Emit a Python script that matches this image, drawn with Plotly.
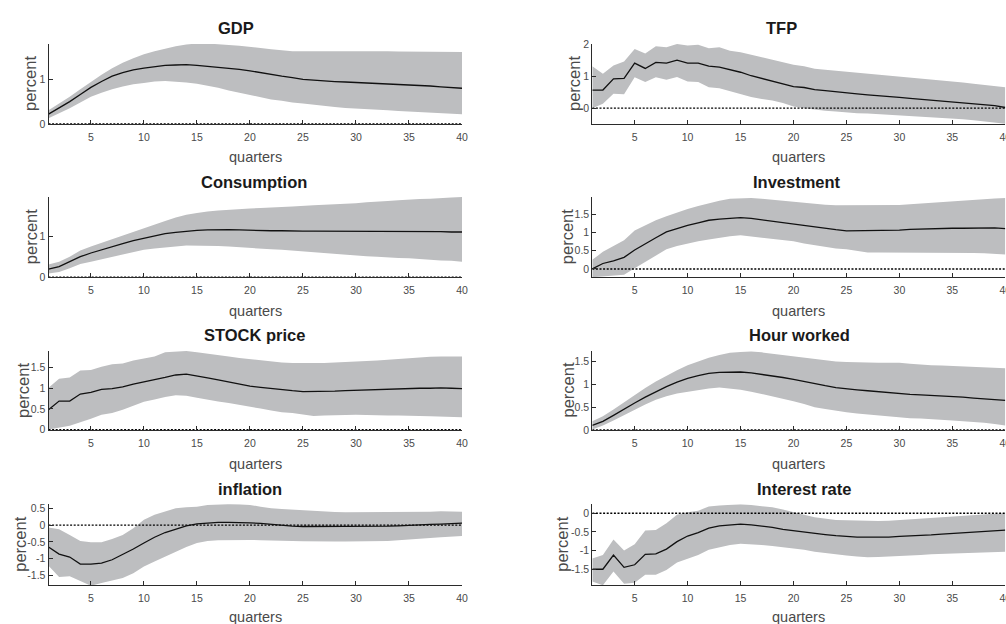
import plotly.graph_objects as go

quarters = list(range(1, 41))
x_ticks = [5, 10, 15, 20, 25, 30, 35, 40]

titles = ["GDP", "TFP", "Consumption", "Investment",
          "STOCK price", "Hour worked", "inflation", "Interest rate"]

gdp_mid = [0.22,0.36,0.50,0.66,0.82,0.95,1.07,1.15,1.21,1.25,1.28,1.31,1.32,1.33,1.31,1.29,1.26,1.24,1.22,1.19,
           1.15,1.10,1.07,1.04,1.00,0.98,0.96,0.95,0.94,0.93,0.92,0.91,0.90,0.88,0.87,0.86,0.85,0.83,0.82,0.80]
gdp_hi = [0.31,0.46,0.61,0.78,0.95,1.10,1.25,1.37,1.47,1.56,1.63,1.69,1.74,1.78,1.80,1.80,1.79,1.77,1.75,1.73,
          1.70,1.67,1.65,1.63,1.63,1.63,1.64,1.64,1.64,1.64,1.63,1.63,1.63,1.62,1.62,1.62,1.62,1.61,1.61,1.61]
gdp_lo = [0.13,0.24,0.35,0.48,0.61,0.70,0.78,0.84,0.89,0.92,0.95,0.96,0.95,0.93,0.90,0.86,0.81,0.75,0.70,0.65,
          0.60,0.55,0.52,0.48,0.46,0.43,0.40,0.38,0.36,0.35,0.34,0.32,0.31,0.29,0.28,0.27,0.26,0.24,0.23,0.22]

tfp_mid = [0.57,0.57,0.92,0.94,1.42,1.25,1.44,1.42,1.51,1.42,1.42,1.32,1.29,1.21,1.13,1.02,0.94,0.84,0.77,0.68,
           0.65,0.58,0.55,0.51,0.48,0.45,0.42,0.40,0.37,0.34,0.31,0.28,0.25,0.22,0.20,0.17,0.15,0.12,0.08,0.02]
tfp_hi = [1.32,1.08,1.34,1.47,1.86,1.72,1.95,1.92,2.02,1.97,2.00,1.89,1.92,1.81,1.76,1.68,1.61,1.53,1.45,1.37,
          1.32,1.24,1.21,1.18,1.16,1.12,1.08,1.05,1.02,1.00,0.97,0.95,0.92,0.88,0.84,0.81,0.77,0.74,0.70,0.66]
tfp_lo = [0.00,0.14,0.45,0.44,0.97,0.82,0.97,0.89,0.98,0.84,0.82,0.66,0.63,0.53,0.45,0.35,0.29,0.24,0.16,0.05,
          0.00,-0.05,-0.08,-0.11,-0.14,-0.16,-0.17,-0.19,-0.20,-0.21,-0.23,-0.25,-0.27,-0.30,-0.32,-0.35,-0.38,-0.42,-0.46,-0.49]

cons_mid = [0.20,0.26,0.38,0.50,0.59,0.67,0.75,0.82,0.89,0.95,1.00,1.06,1.09,1.12,1.14,1.15,1.16,1.16,1.15,1.14,
            1.14,1.13,1.13,1.12,1.12,1.12,1.12,1.12,1.12,1.12,1.12,1.12,1.12,1.12,1.12,1.11,1.11,1.11,1.10,1.10]
cons_hi = [0.31,0.38,0.50,0.65,0.75,0.84,0.93,1.02,1.10,1.19,1.28,1.37,1.45,1.52,1.56,1.60,1.62,1.64,1.65,1.67,
           1.68,1.70,1.71,1.72,1.74,1.75,1.76,1.77,1.79,1.80,1.82,1.83,1.85,1.87,1.89,1.90,1.91,1.93,1.94,1.95]
cons_lo = [0.09,0.13,0.22,0.32,0.38,0.44,0.50,0.56,0.62,0.67,0.70,0.73,0.75,0.77,0.77,0.76,0.76,0.75,0.73,0.71,
           0.70,0.68,0.67,0.65,0.63,0.61,0.59,0.57,0.55,0.52,0.51,0.50,0.48,0.47,0.46,0.44,0.43,0.41,0.40,0.38]

inv_mid = [0.00,0.15,0.22,0.32,0.52,0.70,0.86,1.02,1.12,1.20,1.27,1.34,1.37,1.40,1.41,1.39,1.35,1.31,1.27,1.22,
           1.18,1.14,1.11,1.08,1.05,1.05,1.05,1.05,1.06,1.07,1.09,1.10,1.11,1.11,1.12,1.12,1.13,1.14,1.13,1.11]
inv_hi = [0.25,0.47,0.63,0.79,1.06,1.20,1.34,1.45,1.56,1.65,1.73,1.81,1.88,1.93,1.95,1.95,1.93,1.90,1.87,1.84,
          1.82,1.79,1.77,1.75,1.75,1.75,1.75,1.75,1.76,1.76,1.78,1.80,1.82,1.85,1.88,1.90,1.92,1.93,1.94,1.95]
inv_lo = [-0.23,-0.21,-0.19,-0.16,0.02,0.20,0.38,0.54,0.63,0.70,0.76,0.81,0.86,0.90,0.93,0.90,0.87,0.84,0.80,0.76,
          0.70,0.65,0.60,0.56,0.54,0.50,0.45,0.45,0.45,0.45,0.45,0.46,0.46,0.46,0.46,0.45,0.44,0.43,0.41,0.40]

stock_mid = [0.48,0.69,0.69,0.86,0.90,0.97,0.99,1.03,1.10,1.16,1.21,1.26,1.32,1.34,1.30,1.25,1.20,1.15,1.10,1.05,
             1.02,0.99,0.96,0.94,0.92,0.92,0.92,0.93,0.94,0.95,0.96,0.97,0.98,0.99,0.99,1.00,1.00,1.01,1.00,0.99]
stock_hi = [1.01,1.23,1.26,1.43,1.44,1.52,1.58,1.60,1.67,1.72,1.77,1.87,1.89,1.90,1.87,1.84,1.81,1.77,1.73,1.70,
            1.67,1.64,1.62,1.61,1.61,1.60,1.61,1.62,1.63,1.64,1.66,1.67,1.69,1.71,1.73,1.74,1.76,1.77,1.77,1.77]
stock_lo = [0.00,0.04,0.09,0.18,0.26,0.36,0.40,0.48,0.58,0.67,0.73,0.79,0.83,0.82,0.77,0.72,0.68,0.64,0.60,0.56,
            0.51,0.46,0.42,0.40,0.37,0.33,0.34,0.34,0.35,0.36,0.35,0.35,0.34,0.34,0.34,0.33,0.32,0.31,0.30,0.30]

hour_mid = [0.10,0.19,0.32,0.46,0.59,0.72,0.84,0.95,1.05,1.13,1.19,1.24,1.26,1.27,1.27,1.25,1.22,1.18,1.15,1.11,
            1.06,1.01,0.97,0.93,0.90,0.88,0.86,0.84,0.81,0.79,0.78,0.77,0.76,0.75,0.73,0.72,0.70,0.68,0.66,0.65]
hour_hi = [0.19,0.30,0.45,0.61,0.77,0.92,1.06,1.19,1.31,1.42,1.50,1.58,1.64,1.69,1.71,1.72,1.70,1.67,1.64,1.61,
           1.58,1.55,1.52,1.50,1.49,1.48,1.47,1.47,1.47,1.47,1.45,1.43,1.42,1.41,1.40,1.39,1.38,1.36,1.35,1.35]
hour_lo = [0.01,0.10,0.21,0.33,0.45,0.56,0.66,0.74,0.80,0.84,0.88,0.91,0.93,0.91,0.88,0.84,0.79,0.73,0.68,0.63,
           0.57,0.50,0.46,0.42,0.39,0.36,0.34,0.31,0.29,0.27,0.26,0.25,0.24,0.22,0.21,0.19,0.18,0.16,0.13,0.10]

infl_mid = [-0.65,-0.86,-0.95,-1.16,-1.16,-1.13,-1.03,-0.88,-0.71,-0.53,-0.36,-0.22,-0.11,-0.02,0.04,0.07,0.08,0.08,0.08,0.07,
            0.05,0.02,-0.01,-0.03,-0.04,-0.04,-0.05,-0.05,-0.05,-0.05,-0.05,-0.04,-0.03,-0.02,0.00,0.01,0.02,0.03,0.05,0.06]
infl_hi = [-0.07,-0.12,-0.29,-0.47,-0.51,-0.51,-0.41,-0.29,-0.09,0.16,0.31,0.41,0.50,0.53,0.55,0.60,0.62,0.63,0.62,0.60,
           0.55,0.50,0.48,0.46,0.43,0.41,0.40,0.39,0.38,0.38,0.39,0.39,0.39,0.39,0.39,0.40,0.40,0.41,0.40,0.40]
infl_lo = [-1.21,-1.54,-1.52,-1.67,-1.80,-1.72,-1.65,-1.57,-1.43,-1.23,-1.08,-0.93,-0.78,-0.65,-0.53,-0.47,-0.45,-0.44,-0.44,-0.44,
           -0.45,-0.45,-0.46,-0.47,-0.48,-0.49,-0.49,-0.49,-0.49,-0.49,-0.48,-0.48,-0.47,-0.45,-0.42,-0.40,-0.38,-0.36,-0.34,-0.32]

rate_mid = [-1.50,-1.50,-1.12,-1.45,-1.38,-1.10,-1.09,-0.96,-0.76,-0.61,-0.52,-0.40,-0.34,-0.31,-0.29,-0.31,-0.34,-0.38,-0.43,-0.47,
            -0.51,-0.54,-0.57,-0.60,-0.63,-0.64,-0.64,-0.65,-0.64,-0.62,-0.61,-0.60,-0.58,-0.56,-0.54,-0.52,-0.50,-0.48,-0.46,-0.45]
rate_hi = [-1.21,-1.12,-0.70,-1.00,-0.83,-0.46,-0.45,-0.27,-0.04,0.03,0.07,0.18,0.21,0.22,0.24,0.22,0.19,0.16,0.10,0.04,
           -0.04,-0.11,-0.15,-0.18,-0.19,-0.20,-0.22,-0.21,-0.20,-0.18,-0.15,-0.13,-0.11,-0.09,-0.07,-0.05,-0.03,-0.02,-0.01,0.00]
rate_lo = [-1.83,-1.93,-1.56,-1.89,-1.86,-1.65,-1.65,-1.52,-1.32,-1.21,-1.12,-0.98,-0.91,-0.85,-0.82,-0.83,-0.85,-0.88,-0.91,-0.94,
           -0.98,-1.03,-1.07,-1.10,-1.13,-1.16,-1.18,-1.17,-1.16,-1.14,-1.13,-1.12,-1.10,-1.09,-1.07,-1.06,-1.06,-1.05,-1.04,-1.03]

y_ranges = [[0, 1.79], [-0.5, 2.02], [0, 1.95], [-0.23, 1.98],
            [-0.01, 1.9], [0, 1.73], [-1.79, 0.62], [-1.93, 0.24]]
y_ticks = [[0, 1], [0, 1, 2], [0, 1], [0, 0.5, 1, 1.5],
           [0, 0.5, 1, 1.5], [0, 0.5, 1, 1.5], [-1.5, -1, -0.5, 0, 0.5], [-1.5, -1, -0.5, 0]]

panels = [(gdp_lo, gdp_mid, gdp_hi), (tfp_lo, tfp_mid, tfp_hi),
          (cons_lo, cons_mid, cons_hi), (inv_lo, inv_mid, inv_hi),
          (stock_lo, stock_mid, stock_hi), (hour_lo, hour_mid, hour_hi),
          (infl_lo, infl_mid, infl_hi), (rate_lo, rate_mid, rate_hi)]

W, H = 1006, 624
# pixel boxes of the plotting areas: (left, right) per column, (top, bottom) per row
col_px = [(48.5, 462.0), (592.3, 1005.3)]
row_px = [(44.0, 124.0), (197.0, 277.3), (351.0, 430.0), (504.3, 585.3)]
xlabel_gap = [33, 33.4, 33.5, 31.5]
title_px = [(236, 28.3), (781, 28.3), (254, 182.3), (797, 181.7),
            (254, 335.0), (799, 335.0), (250, 489.3), (804, 489.3)]
# horizontal centre of each "percent" label, pushed left past wider tick labels
ylabel_px = [30, 574, 31, 567, 22.5, 567, 20, 562]

BAND = "#bdbec0"
AXIS = "#2b2b2b"
TXT = "#4a4a4a"
FONT = "Liberation Sans, Arial, sans-serif"

fig = go.Figure()
layout = dict(width=W, height=H, margin=dict(l=0, r=0, t=0, b=0, autoexpand=False),
              paper_bgcolor="white", plot_bgcolor="white", showlegend=False,
              font=dict(family=FONT, color=TXT))
annotations = []

for i, (lo, mid, hi) in enumerate(panels):
    r, c = divmod(i, 2)
    xa = "x" if i == 0 else f"x{i+1}"
    ya = "y" if i == 0 else f"y{i+1}"
    x0, x1 = col_px[c]
    t, b = row_px[r]

    fig.add_trace(go.Scatter(x=quarters, y=hi, xaxis=xa, yaxis=ya, mode="lines",
                             line=dict(width=0, color=BAND), hoverinfo="skip"))
    fig.add_trace(go.Scatter(x=quarters, y=lo, xaxis=xa, yaxis=ya, mode="lines",
                             line=dict(width=0, color=BAND), fill="tonexty",
                             fillcolor=BAND, hoverinfo="skip"))
    fig.add_trace(go.Scatter(x=[1, 40], y=[0, 0], xaxis=xa, yaxis=ya, mode="lines",
                             line=dict(color="black", width=1.4, dash="2px,1.6px"),
                             hoverinfo="skip"))
    fig.add_trace(go.Scatter(x=quarters, y=mid, xaxis=xa, yaxis=ya, mode="lines",
                             line=dict(color="#111111", width=1.3)))

    xkey = "xaxis" if i == 0 else f"xaxis{i+1}"
    ykey = "yaxis" if i == 0 else f"yaxis{i+1}"
    layout[xkey] = dict(domain=[x0 / W, x1 / W], anchor=ya, range=[1, 40],
                        tickvals=x_ticks, ticks="inside", ticklen=4, tickcolor=AXIS,
                        showline=True, linecolor=AXIS, linewidth=1, showgrid=False,
                        zeroline=False, tickfont=dict(size=10.5, color=TXT),
                        ticklabelstandoff=3, ticklabeloverflow="allow", automargin=False)
    layout[ykey] = dict(domain=[1 - b / H, 1 - t / H], anchor=xa, range=y_ranges[i],
                        tickvals=y_ticks[i], ticktext=[f"{v:g}" for v in y_ticks[i]],
                        ticks="inside", ticklen=4, tickcolor=AXIS,
                        showline=True, linecolor=AXIS, linewidth=1, showgrid=False,
                        zeroline=False, tickfont=dict(size=10.5, color=TXT),
                        automargin=False)

    tx, ty = title_px[i]
    annotations.append(dict(text=f"<b>{titles[i]}</b>", x=tx / W, y=1 - ty / H,
                            xref="paper", yref="paper", xanchor="center", yanchor="middle",
                            showarrow=False, font=dict(size=16.5, color="#1a1a1a", family=FONT)))
    annotations.append(dict(text="quarters", x=(x0 + x1) / 2 / W, y=1 - (b + xlabel_gap[r]) / H,
                            xref="paper", yref="paper", xanchor="center", yanchor="middle",
                            showarrow=False, font=dict(size=14.5, color=TXT, family=FONT)))
    annotations.append(dict(text="percent", x=ylabel_px[i] / W, y=1 - (t + b) / 2 / H,
                            xref="paper", yref="paper", xanchor="center", yanchor="middle",
                            textangle=-90, showarrow=False,
                            font=dict(size=16.5, color=TXT, family=FONT)))

layout["annotations"] = annotations
fig.update_layout(**layout)
fig.write_html("out.html")
